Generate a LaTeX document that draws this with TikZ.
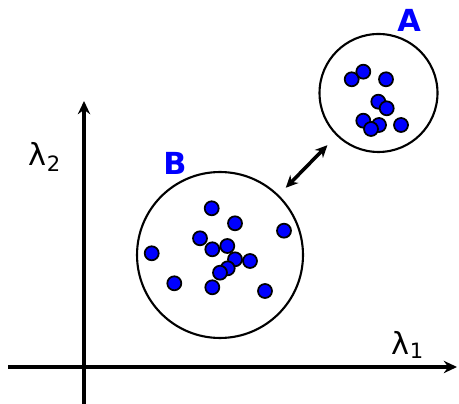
\documentclass[tikz,border=0pt]{standalone}
\usepackage{fontspec}
\setmainfont{DejaVu Sans}
\usetikzlibrary{arrows.meta, positioning}
\definecolor{ClusterBlue}{HTML}{0000FF}

\begin{document}
\begin{tikzpicture}[x=0.02cm, y=-0.02cm, >=Stealth,
        cluster/.style={circle, draw=black, line width=1.2pt, inner sep=0pt},
        sample/.style={circle, draw=black, fill=ClusterBlue, line width=1pt, inner sep=0pt, minimum size=0.28cm},
        clusterlabel/.style={text=ClusterBlue, font=\LARGE\bfseries},
        axis/.style={line width=2.1pt, -{Stealth[length=7.5pt, width=7pt]}},
        axislabel/.style={font=\LARGE}]

        \useasboundingbox (0,0) rectangle (459,404);

        % axes
        \coordinate (xstart) at (8,367);
        \coordinate (xend) at (457,367);
        \coordinate (ystart) at (84,404);
        \coordinate (yend) at (84,101);
        \draw[axis] (xstart) -- (xend);
        \draw[axis] (ystart) -- (yend);
        \node[axislabel] (lam1) at (408,345) {λ\textsubscript{1}};
        \node[axislabel] (lam2) at (45,157) {λ\textsubscript{2}};

        % clusters
        \node[cluster, minimum size=2.36cm] (clusterA) at (378.5,93) {};
        \node[cluster, minimum size=3.32cm] (clusterB) at (220,255) {};
        \node[clusterlabel] (labelA) at (409,20) {A};
        \node[clusterlabel] (labelB) at (175,163) {B};

        % samples of A
        \foreach \px/\py [count=\i] in {351.7/79.3, 363.3/71.7, 386/79.3, 378.3/101.7, 386.7/108.3,
                401/125, 379/125, 363.3/120.7, 371/129}
            \node[sample] (a\i) at (\px,\py) {};

        % samples of B
        \foreach \px/\py [count=\i] in {211.7/208.3, 235/223.3, 284/230.7, 200/238.3, 212.3/249.3,
                227.3/246, 151.7/253.3, 250/261, 235/259.3, 227.7/268.3, 220/272.7,
                174.3/283.3, 212.3/287.3, 265/291}
            \node[sample] (b\i) at (\px,\py) {};

        \draw[{Stealth[length=7pt, width=6.5pt]}-{Stealth[length=7pt, width=6.5pt]}, line width=2pt,
            shorten <=0.2cm, shorten >=0.26cm] (clusterB) -- (clusterA);
    \end{tikzpicture}
\end{document}
